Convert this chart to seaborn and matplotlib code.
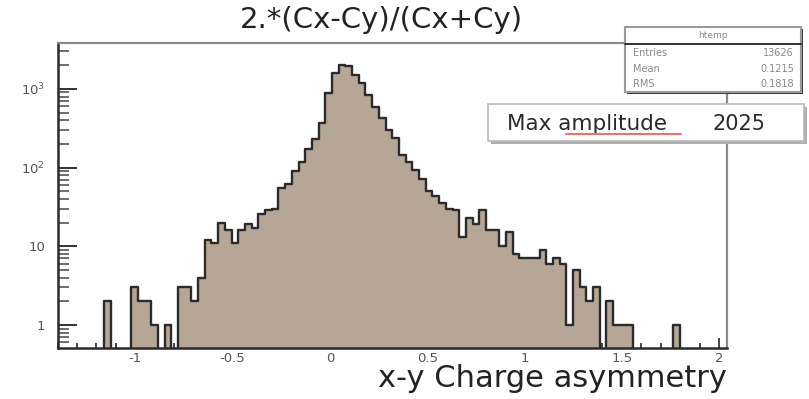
import numpy as np
import pandas as pd
import matplotlib
matplotlib.use("Agg")
import matplotlib.pyplot as plt
import seaborn as sns
from matplotlib.patches import Rectangle
from matplotlib.lines import Line2D
from matplotlib.ticker import FixedLocator, MultipleLocator, NullFormatter, FixedFormatter

# ---------------- data ----------------
x_min, x_max = -1.4, 2.04
n_bins = 100
counts = [0, 0, 0, 0, 0, 0, 0, 2, 0, 0,
          0, 3, 2, 2, 1, 0, 1, 0, 3, 3,
          2, 4, 12, 11, 20, 16, 11, 16, 19, 17,
          26, 29, 30, 55, 62, 90, 119, 170, 230, 365,
          880, 1580, 2025, 1950, 1500, 1180, 835, 594, 423, 300,
          236, 145, 119, 93, 72, 50, 43, 35, 30, 29,
          13, 23, 19, 29, 16, 16, 10, 15, 8, 7,
          7, 7, 9, 6, 7, 6, 1, 5, 3, 2,
          3, 0, 2, 1, 1, 1, 0, 0, 0, 0,
          0, 0, 1, 0, 0, 0, 0, 0, 0, 0]

title = "2.*(Cx-Cy)/(Cx+Cy)"
xlabel = "x-y Charge asymmetry"
x_ticks = [-1, -0.5, 0, 0.5, 1, 1.5, 2]
x_tick_labels = ["-1", "-0.5", "0", "0.5", "1", "1.5", "2"]
y_ticks = [1, 10, 100, 1000]
y_tick_labels = ["1", "10", "$10^{2}$", "$10^{3}$"]
stats_title = "htemp"
stats_names = ["Entries", "Mean", "RMS"]
stats_values = ["13626", "0.1215", "0.1818"]
note_label = "Max amplitude"
note_value = "2025"

edges = np.linspace(x_min, x_max, n_bins + 1)
centers = 0.5 * (edges[:-1] + edges[1:])
df = pd.DataFrame({"asym": centers, "n": counts})
bin_list = [float(e) for e in edges]

# ---------------- figure ----------------
sns.set_style("white")
plt.rcParams["font.family"] = ["DejaVu Sans"]

W, H = 809, 399
fig = plt.figure(figsize=(W / 100, H / 100), dpi=100)

def fx(px):
    return px / W

def fy(py):
    return 1 - py / H

ax_l, ax_r, ax_t, ax_b = 57.5, 727, 43, 348
ax = fig.add_axes([fx(ax_l), fy(ax_b), (ax_r - ax_l) / W, (ax_b - ax_t) / H])

fill_color = "#b5a696"
line_color = "#2b2b2b"

sns.histplot(data=df, x="asym", weights="n", bins=bin_list, element="step", fill=True,
             color=fill_color, alpha=1, linewidth=0, ax=ax)
sns.histplot(data=df, x="asym", weights="n", bins=bin_list, element="step", fill=False,
             color=line_color, linewidth=1.7, ax=ax)

ax.set_yscale("log")
ax.set_xlim(x_min, x_max)
ax.set_ylim(0.51, 3830)

ax.xaxis.set_major_locator(FixedLocator(x_ticks))
ax.xaxis.set_major_formatter(FixedFormatter(x_tick_labels))
ax.xaxis.set_minor_locator(MultipleLocator(0.1))
ax.yaxis.set_major_locator(FixedLocator(y_ticks))
ax.yaxis.set_major_formatter(FixedFormatter(y_tick_labels))
minor_y = [m * 10 ** d for d in range(-1, 4) for m in range(2, 10)]
ax.yaxis.set_minor_locator(FixedLocator(minor_y))
ax.yaxis.set_minor_formatter(NullFormatter())

ax.tick_params(left=True, bottom=True, top=False, right=False, which="both")
ax.tick_params(axis="x", which="major", direction="in", length=7, width=1.2,
               color="#222", labelsize=9.5, labelcolor="#555", pad=3)
ax.tick_params(axis="x", which="minor", direction="in", length=3.8, width=1.2, color="#222")
ax.tick_params(axis="y", which="major", direction="in", length=14, width=1.4,
               color="#333", labelsize=9.5, labelcolor="#555", pad=9)
ax.tick_params(axis="y", which="minor", direction="in", length=8, width=1.2, color="#555")

for side in ["left", "bottom"]:
    ax.spines[side].set_color("#2a2a2a")
    ax.spines[side].set_linewidth(1.8)
for side in ["top", "right"]:
    ax.spines[side].set_color("#8a8a8a")
    ax.spines[side].set_linewidth(1.6)

ax.set_ylabel("")
ax.set_xlabel(xlabel, loc="right", fontsize=22, color="#222", labelpad=-1)

fig.suptitle(title, x=fx(381), y=fy(6), va="top", fontsize=21, color="#222")

# ---------------- stats box ----------------
sx0, sy0, sx1, sy1 = 625, 27, 801, 92
fig.patches.append(Rectangle((fx(sx0 + 2), fy(sy1 + 2)), (sx1 - sx0) / W, (sy1 - sy0) / H,
                             transform=fig.transFigure, facecolor="#3a3a3a", edgecolor="none", zorder=5))
fig.patches.append(Rectangle((fx(sx0), fy(sy1)), (sx1 - sx0) / W, (sy1 - sy0) / H,
                             transform=fig.transFigure, facecolor="white", edgecolor="#9a9a9a",
                             linewidth=1.5, zorder=6))
fig.lines.append(Line2D([fx(sx0), fx(sx1)], [fy(44), fy(44)], transform=fig.transFigure,
                        color="#222", linewidth=1.3, zorder=7))
fig.text(fx((sx0 + sx1) / 2), fy(35), stats_title, ha="center", va="center",
         fontsize=6.5, color="#888", zorder=8)
for i, (nm, val) in enumerate(zip(stats_names, stats_values)):
    yy = [53, 69, 84][i]
    fig.text(fx(633), fy(yy), nm, ha="left", va="center", fontsize=7, color="#888", zorder=8)
    fig.text(fx(794), fy(yy), val, ha="right", va="center", fontsize=7, color="#888", zorder=8)

# ---------------- Max amplitude box ----------------
mx0, my0, mx1, my1 = 488, 104, 804, 141
fig.patches.append(Rectangle((fx(mx0 + 3), fy(my1 + 3)), (mx1 - mx0) / W, (my1 - my0) / H,
                             transform=fig.transFigure, facecolor="#b0b0b0", edgecolor="none", zorder=5))
fig.patches.append(Rectangle((fx(mx0), fy(my1)), (mx1 - mx0) / W, (my1 - my0) / H,
                             transform=fig.transFigure, facecolor="white", edgecolor="#b8b8b8",
                             linewidth=1.2, zorder=6))
fig.text(fx(507), fy(124), note_label, ha="left", va="center", fontsize=15.5, color="#2a2a2a", zorder=8)
fig.text(fx(712), fy(124), note_value, ha="left", va="center", fontsize=15, color="#2a2a2a", zorder=8)
fig.lines.append(Line2D([fx(566), fx(681)], [fy(134), fy(134)], transform=fig.transFigure,
                        color="#f07070", linewidth=1.5, zorder=9))

fig.savefig("out.png", dpi=100)
